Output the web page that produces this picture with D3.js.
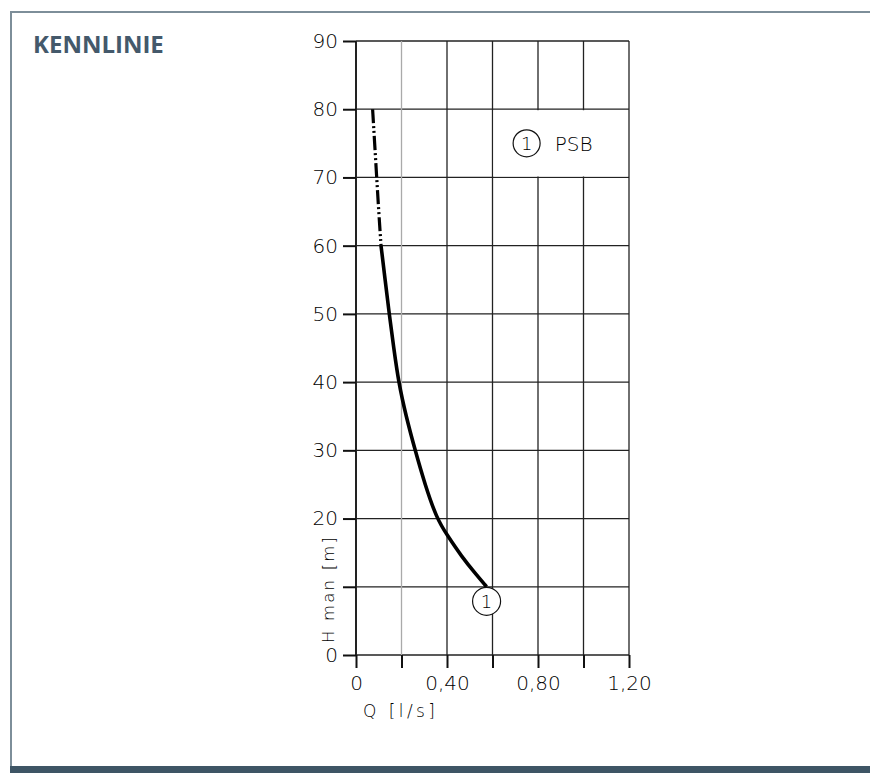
<!DOCTYPE html>
<html>
<head>
<meta charset="utf-8">
<script src="https://cdn.jsdelivr.net/npm/d3@7"></script>
<style>
  html, body { margin: 0; padding: 0; background: #fff; }
  svg { display: block; }
  .tech { font-family: "DejaVu Sans", sans-serif; font-weight: 200; fill: #000; }
</style>
</head>
<body>
<svg id="chart" width="870" height="773"></svg>
<script>
// pump curve, Q [l/s] vs H [m]
var curveDashed = [[0.073, 80], [0.082, 75], [0.091, 70], [0.100, 65], [0.110, 60]];
var curveSolid = [[0.110, 60], [0.128, 55], [0.146, 50], [0.166, 45], [0.187, 40], [0.220, 35],
                  [0.260, 30], [0.303, 25], [0.355, 20], [0.400, 17.6], [0.465, 14.4],
                  [0.523, 12], [0.574, 10]];
var xTicks = [0, 0.2, 0.4, 0.6, 0.8, 1.0, 1.2];
var xTickLabels = ["0", "", "0,40", "", "0,80", "", "1,20"];
var yTicks = [0, 10, 20, 30, 40, 50, 60, 70, 80, 90];
var yTickLabels = ["0", "", "20", "30", "40", "50", "60", "70", "80", "90"];
var legendLabel = "PSB";
var curveId = "1";

var svg = d3.select("#chart");

// frame
svg.append("path")
    .attr("d", "M11,773 V12 H870")
    .attr("fill", "none")
    .attr("stroke", "#7d8e99")
    .attr("stroke-width", 2);
svg.append("rect")
    .attr("x", 10).attr("y", 766)
    .attr("width", 860).attr("height", 7)
    .attr("fill", "#3e5565");

svg.append("text")
    .attr("x", 33).attr("y", 53)
    .attr("font-family", "'Open Sans', sans-serif")
    .attr("font-weight", 700)
    .attr("font-size", 24)
    .attr("fill", "#44596b")
    .text("KENNLINIE");

// scales
var x = d3.scaleLinear().domain([0, 1.2]).range([356, 629]);
var y = d3.scaleLinear().domain([0, 90]).range([655, 41]);

// grid
var grid = svg.append("g");
grid.selectAll(".hg")
    .data(yTicks)
    .enter().append("line")
    .attr("x1", x(0)).attr("x2", x(1.2))
    .attr("y1", function(d) { return y(d); })
    .attr("y2", function(d) { return y(d); })
    .attr("stroke", "#222")
    .attr("stroke-width", 1.3);
grid.selectAll(".vg")
    .data(xTicks)
    .enter().append("line")
    .attr("x1", function(d) { return x(d); })
    .attr("x2", function(d) { return x(d); })
    .attr("y1", y(90)).attr("y2", y(0))
    .attr("stroke", function(d) { return d == 0.2 ? "#aaa" : "#222"; })
    .attr("stroke-width", function(d) { return d == 0 ? 2 : 1.3; });

// legend box cut out of the grid
svg.append("rect")
    .attr("x", x(0.6) + 1).attr("y", y(80) + 1)
    .attr("width", x(1.2) - x(0.6) - 2)
    .attr("height", y(70) - y(80) - 2)
    .attr("fill", "#fff");

// axes
var yAxis = svg.append("g")
    .attr("transform", "translate(" + x(0) + ",0)")
    .call(d3.axisLeft(y).tickValues(yTicks).tickSize(13).tickPadding(5)
        .tickFormat(function(d, i) { return yTickLabels[i]; }));
var xAxis = svg.append("g")
    .attr("transform", "translate(0," + y(0) + ")")
    .call(d3.axisBottom(x).tickValues(xTicks).tickSize(13).tickPadding(8)
        .tickFormat(function(d, i) { return xTickLabels[i]; }));

[yAxis, xAxis].forEach(function(a) {
    a.select(".domain").remove();
    a.selectAll(".tick line").attr("stroke", "#111").attr("stroke-width", 2);
    a.selectAll(".tick text")
        .attr("class", "tech")
        .attr("font-size", 20);
});
xAxis.selectAll(".tick text").attr("dy", "0.71em");

// axis titles
svg.append("text")
    .attr("class", "tech")
    .attr("x", 363).attr("y", 717)
    .attr("font-size", 17)
    .attr("textLength", 72)
    .attr("lengthAdjust", "spacing")
    .text("Q [l/s]");
svg.append("text")
    .attr("class", "tech")
    .attr("transform", "translate(333.5,643) rotate(-90)")
    .attr("font-size", 16.5)
    .attr("textLength", 106)
    .attr("lengthAdjust", "spacing")
    .text("H man [m]");

// curve
var line = d3.line()
    .x(function(d) { return x(d[0]); })
    .y(function(d) { return y(d[1]); })
    .curve(d3.curveBasis);

svg.append("path")
    .datum(curveDashed)
    .attr("d", line)
    .attr("fill", "none")
    .attr("stroke", "#000")
    .attr("stroke-width", 3.2)
    .attr("stroke-dasharray", "14,3,2,3,2,3");
svg.append("path")
    .datum(curveSolid)
    .attr("d", line)
    .attr("fill", "none")
    .attr("stroke", "#000")
    .attr("stroke-width", 3.6);

// curve marker
var last = curveSolid[curveSolid.length - 1];
var r = 14;
var marker = svg.append("g")
    .attr("transform", "translate(" + x(last[0]) + "," + (y(last[1]) + r + 0.5) + ")");
marker.append("circle").attr("r", r).attr("fill", "#fff").attr("stroke", "#111").attr("stroke-width", 1.2);
marker.append("text").attr("class", "tech").attr("font-size", 18)
    .attr("text-anchor", "middle").attr("dy", "0.36em").text(curveId);

// legend
var leg = svg.append("g")
    .attr("transform", "translate(" + x(0.75) + "," + y(75) + ")");
leg.append("circle").attr("r", 13.5).attr("fill", "#fff").attr("stroke", "#111").attr("stroke-width", 1.2);
leg.append("text").attr("class", "tech").attr("font-size", 18)
    .attr("text-anchor", "middle").attr("dy", "0.36em").text(curveId);
leg.append("text").attr("class", "tech").attr("font-size", 20)
    .attr("x", 28).attr("dy", "0.36em").text(legendLabel);
</script>
</body>
</html>
